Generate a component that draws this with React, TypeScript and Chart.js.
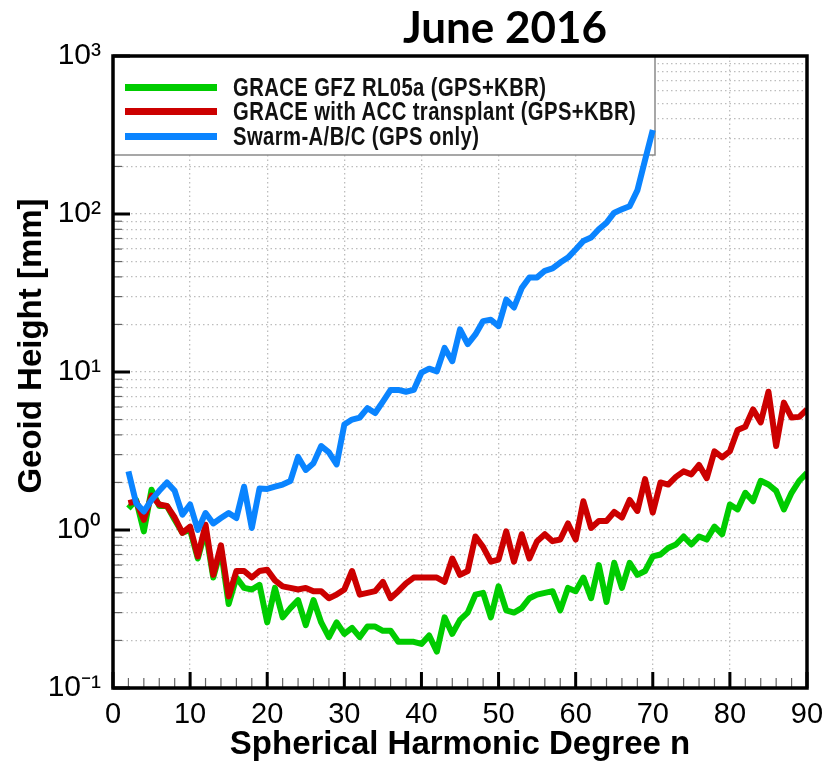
import React, { useEffect, useRef } from "react";
import { Chart, registerables } from "chart.js";
Chart.register(...registerables);

const degrees = [2,3,4,5,6,7,8,9,10,11,12,13,14,15,16,17,18,19,20,21,22,23,24,25,26,27,28,29,30,31,32,33,34,35,36,37,38,39,40,41,42,43,44,45,46,47,48,49,50,51,52,53,54,55,56,57,58,59,60,61,62,63,64,65,66,67,68,69,70,71,72,73,74,75,76,77,78,79,80,81,82,83,84,85,86,87,88,89,90];

const graceGfz = [1.37,1.55,0.98,1.8,1.42,1.42,1.16,0.96,1.0,0.66,1.0,0.5,0.75,0.34,0.5,0.43,0.42,0.45,0.26,0.43,0.28,0.32,0.36,0.25,0.36,0.26,0.21,0.26,0.22,0.24,0.21,0.245,0.245,0.23,0.23,0.196,0.196,0.196,0.19,0.215,0.17,0.28,0.22,0.27,0.30,0.39,0.40,0.28,0.44,0.31,0.30,0.32,0.37,0.39,0.40,0.41,0.31,0.43,0.41,0.5,0.37,0.6,0.35,0.62,0.43,0.62,0.52,0.55,0.68,0.7,0.77,0.81,0.91,0.81,0.91,0.87,1.05,0.94,1.45,1.35,1.72,1.52,2.05,1.94,1.77,1.35,1.72,2.05,2.3];

const graceAcc = [1.48,1.52,1.16,1.65,1.45,1.42,1.2,0.96,1.05,0.68,1.08,0.52,0.8,0.38,0.55,0.55,0.5,0.55,0.56,0.48,0.44,0.43,0.42,0.43,0.41,0.41,0.37,0.39,0.42,0.55,0.39,0.40,0.41,0.47,0.37,0.41,0.46,0.5,0.5,0.5,0.5,0.47,0.66,0.52,0.55,0.91,0.78,0.63,0.65,0.98,0.63,0.94,0.66,0.85,0.94,0.85,0.87,1.1,0.87,1.52,1.03,1.14,1.14,1.3,1.2,1.55,1.32,2.1,1.29,2.0,1.94,2.17,2.35,2.25,2.58,2.13,3.15,2.88,3.15,4.3,4.5,5.8,4.8,7.5,3.4,6.4,5.15,5.2,5.8];

const swarmDegrees = [2,3,4,5,6,7,8,9,10,11,12,13,14,15,16,17,18,19,20,21,22,23,24,25,26,27,28,29,30,31,32,33,34,35,36,37,38,39,40,41,42,43,44,45,46,47,48,49,50,51,52,53,54,55,56,57,58,59,60,61,62,63,64,65,66,67,68,69,70];
const swarm = [2.35,1.48,1.31,1.55,1.77,2.0,1.77,1.25,1.45,1.0,1.28,1.1,1.19,1.28,1.19,1.88,1.03,1.83,1.82,1.88,1.94,2.04,2.9,2.4,2.65,3.4,3.1,2.6,4.65,5.0,5.15,5.9,5.5,6.5,7.7,7.7,7.5,7.7,9.9,10.5,10.1,14.2,11.7,18.6,15,17.3,21,21.4,19.5,28.7,25.6,34,39.7,39.7,43.7,45.2,49.3,53,59.6,67.5,71,80,88,102,107,112,141,220,340];

const xTickValues = [0,2,4,6,8,10,12,14,16,18,20,22,24,26,28,30,32,34,36,38,40,42,44,46,48,50,52,54,56,58,60,62,64,66,68,70,72,74,76,78,80,82,84,86,88,90];
const xTickLabels = ["0","10","20","30","40","50","60","70","80","90"];
const yTickValues = [0.1,0.2,0.3,0.4,0.5,0.6,0.7,0.8,0.9,1,2,3,4,5,6,7,8,9,10,20,30,40,50,60,70,80,90,100,200,300,400,500,600,700,800,900,1000];
const yMajorValues = [0.1, 1, 10, 100, 1000];
const yTickLabels = ["10\u207B\u00B9", "10\u2070", "10\u00B9", "10\u00B2", "10\u00B3"];

const seriesNames = ["GRACE GFZ RL05a (GPS+KBR)", "GRACE with ACC transplant (GPS+KBR)", "Swarm-A/B/C (GPS only)"];
const seriesColors = ["#00cc00", "#cc0000", "#0a84ff"];

const FONT = "'Liberation Sans', Arial, Helvetica, sans-serif";

const framePlugin = {
  id: "frame",
  beforeDatasetsDraw(chart: any) {
    const { ctx, chartArea: a } = chart;
    ctx.save();
    ctx.fillStyle = "#fff";
    ctx.fillRect(a.left, a.top, 542, 99);
    ctx.strokeStyle = "#8a8a8a";
    ctx.lineWidth = 1.5;
    ctx.beginPath();
    ctx.moveTo(a.left, a.top + 99);
    ctx.lineTo(a.left + 542, a.top + 99);
    ctx.lineTo(a.left + 542, a.top);
    ctx.stroke();
    ctx.restore();
  },
  afterDatasetsDraw(chart: any) {
    const { ctx, chartArea: a, scales } = chart;
    const x = scales.x;
    const y = scales.y;
    ctx.save();
    x.ticks.forEach((t: any) => {
      const px = x.getPixelForValue(t.value);
      const major = t.value % 10 === 0;
      ctx.lineWidth = major ? 3 : 1.2;
      ctx.strokeStyle = major ? "#000" : "#666";
      const len = major ? 16 : 10;
      ctx.beginPath();
      ctx.moveTo(px, a.bottom);
      ctx.lineTo(px, a.bottom - len);
      ctx.stroke();
    });
    y.ticks.forEach((t: any) => {
      const py = y.getPixelForValue(t.value);
      if (py < a.top + 100 && py > a.top + 2) return;
      const major = yMajorValues.indexOf(t.value) >= 0;
      ctx.lineWidth = major ? 3 : 1.2;
      ctx.strokeStyle = major ? "#000" : "#666";
      const len = major ? 17 : 9;
      ctx.beginPath();
      ctx.moveTo(a.left, py);
      ctx.lineTo(a.left + len, py);
      ctx.stroke();
    });
    ctx.lineWidth = 3.5;
    ctx.strokeStyle = "#000";
    ctx.strokeRect(a.left, a.top, a.right - a.left, a.bottom - a.top);
    ctx.restore();
  },
};

export default function App() {
  const ref = useRef<HTMLCanvasElement>(null);
  useEffect(() => {
    const mk = (xs: number[], ys: number[]) => ys.map((v, i) => ({ x: xs[i], y: v }));
    const chart = new Chart(ref.current as HTMLCanvasElement, {
      type: "line",
      data: {
        datasets: [
          { label: seriesNames[2], data: mk(swarmDegrees, swarm), borderColor: seriesColors[2], borderWidth: 6, pointRadius: 0, tension: 0, borderJoinStyle: "round" },
          { label: seriesNames[1], data: mk(degrees, graceAcc), borderColor: seriesColors[1], borderWidth: 6, pointRadius: 0, tension: 0, borderJoinStyle: "round" },
          { label: seriesNames[0], data: mk(degrees, graceGfz), borderColor: seriesColors[0], borderWidth: 6, pointRadius: 0, tension: 0, borderJoinStyle: "round" },
        ],
      } as any,
      options: {
        responsive: false,
        animation: false,
        devicePixelRatio: 1,
        layout: { padding: { top: 56, right: 18, left: 0, bottom: 0 } },
        plugins: { legend: { display: false }, tooltip: { enabled: false }, title: { display: false } },
        scales: {
          x: {
            type: "linear",
            min: 0,
            max: 90,
            afterFit(s: any) { s.height = 79; s.paddingLeft = 0; s.paddingRight = 0; },
            afterBuildTicks(s: any) { s.ticks = xTickValues.map((v) => ({ value: v })); },
            ticks: {
              autoSkip: false,
              maxRotation: 0,
              padding: 10,
              color: "#000",
              font: { family: FONT, size: 29 },
              callback: (v: any) => (Number(v) % 10 === 0 ? xTickLabels[Number(v) / 10] : ""),
            },
            grid: {
              drawTicks: false,
              lineWidth: 1.3,
              color: (c: any) => (c.tick && c.tick.value % 10 === 0 && c.tick.value > 0 && c.tick.value < 90 ? "#bdbdbd" : "rgba(0,0,0,0)"),
            },
            border: { display: false, dash: [1.5, 3] },
            title: { display: true, text: "Spherical Harmonic Degree n", color: "#000", font: { family: FONT, size: 33, weight: "bold" }, padding: { top: 0, bottom: 2 } },
          },
          y: {
            type: "logarithmic",
            min: 0.1,
            max: 1000,
            afterFit(s: any) { s.width = 113; s.paddingTop = 0; s.paddingBottom = 0; },
            afterBuildTicks(s: any) { s.ticks = yTickValues.map((v) => ({ value: v, major: yMajorValues.indexOf(v) >= 0 })); },
            ticks: {
              autoSkip: false,
              padding: 12,
              color: "#000",
              font: { family: FONT, size: 30 },
              callback: (v: any) => {
                const k = yMajorValues.indexOf(Number(v));
                return k >= 0 ? yTickLabels[k] : "";
              },
            },
            grid: {
              drawTicks: false,
              lineWidth: 1.3,
              color: (c: any) => (c.tick && c.tick.value > 0.1 && c.tick.value < 1000 ? "#bdbdbd" : "rgba(0,0,0,0)"),
            },
            border: { display: false, dash: [1.5, 3] },
            title: { display: false },
          },
        },
      } as any,
      plugins: [framePlugin],
    });
    return () => chart.destroy();
  }, []);

  const rowTops = [75, 99, 124];
  return (
    <div style={{ position: "absolute", left: 0, top: 0, width: 825, height: 767, background: "#fff", overflow: "hidden" }}>
      <canvas ref={ref} width={825} height={767} style={{ position: "absolute", left: 0, top: 0 }} />
      <div style={{ position: "absolute", left: 355, width: 300, top: 1, textAlign: "center", fontFamily: "Lato, 'Open Sans', sans-serif", fontWeight: 700, fontSize: 44, lineHeight: "50px", color: "#000" }}>
        June 2016
      </div>
      <div style={{ position: "absolute", left: 30 - 200, top: 346 - 20, width: 400, height: 40, lineHeight: "40px", textAlign: "center", transform: "rotate(-90deg)", fontFamily: FONT, fontWeight: 700, fontSize: 33, color: "#000", whiteSpace: "nowrap" }}>
        Geoid Height [mm]
      </div>
      {seriesNames.map((name, i) => (
        <div key={name} style={{ position: "absolute", left: 125, top: rowTops[i], height: 24, display: "flex", alignItems: "center", whiteSpace: "nowrap" }}>
          <span style={{ display: "inline-block", width: 92, height: 7, background: seriesColors[i] }} />
          <span style={{ marginLeft: 16, fontFamily: FONT, fontWeight: 700, fontSize: 25, color: "#111", letterSpacing: 0.5, display: "inline-block", transform: "scaleX(0.81)", transformOrigin: "left center" }}>{name}</span>
        </div>
      ))}
    </div>
  );
}
